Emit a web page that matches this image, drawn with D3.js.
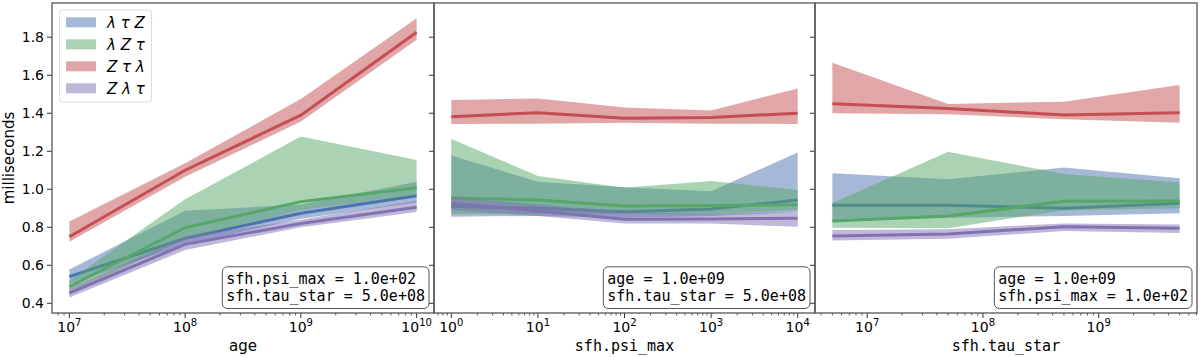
<!DOCTYPE html>
<html>
<head>
<meta charset="utf-8">
<script src="https://cdn.jsdelivr.net/npm/d3@7"></script>
<style>
  body { margin: 0; background: #fff; }
  text { font-family: "DejaVu Sans", sans-serif; fill: #000; }
  .mono { font-family: "DejaVu Sans Mono", monospace; }
</style>
</head>
<body>
<script>
const seriesNames = ['λ τ Z', 'λ Z τ', 'Z τ λ', 'Z λ τ']
const colors = ['#4c72b0', '#55a868', '#c44e52', '#8172b2']

const yTicks = [0.4, 0.6, 0.8, 1.0, 1.2, 1.4, 1.6, 1.8]

// panel 1: age
const ageX = [1e7, 1e8, 1e9, 1e10]
const ageMid = [
  [0.54, 0.742, 0.874, 0.966],
  [0.487, 0.798, 0.935, 1.008],
  [0.75, 1.10, 1.39, 1.826],
  [0.453, 0.71, 0.82, 0.905]
]
const ageLo = [
  [0.50, 0.71, 0.845, 0.93],
  [0.45, 0.74, 0.89, 0.97],
  [0.724, 1.066, 1.356, 1.786],
  [0.43, 0.68, 0.80, 0.88]
]
const ageHi = [
  [0.578, 0.887, 0.92, 1.04],
  [0.52, 0.947, 1.277, 1.154],
  [0.83, 1.137, 1.475, 1.90],
  [0.48, 0.75, 0.84, 0.94]
]

// panel 2: sfh.psi_max
const psiX = [1, 10, 100, 1000, 1e4]
const psiMid = [
  [0.909, 0.90, 0.882, 0.896, 0.944],
  [0.954, 0.944, 0.912, 0.914, 0.919],
  [1.382, 1.403, 1.374, 1.378, 1.40],
  [0.926, 0.886, 0.842, 0.844, 0.847]
]
const psiLo = [
  [0.856, 0.86, 0.85, 0.86, 0.88],
  [0.87, 0.87, 0.87, 0.87, 0.89],
  [1.344, 1.345, 1.35, 1.345, 1.344],
  [0.89, 0.86, 0.82, 0.82, 0.803]
]
const psiHi = [
  [1.177, 1.04, 1.01, 0.99, 1.193],
  [1.265, 1.07, 1.008, 1.044, 0.996],
  [1.47, 1.477, 1.43, 1.414, 1.53],
  [0.96, 0.92, 0.88, 0.87, 0.88]
]

// panel 3: sfh.tau_star
const tauX = [5e6, 5e7, 5e8, 5e9]
const tauMid = [
  [0.916, 0.916, 0.90, 0.926],
  [0.833, 0.859, 0.937, 0.938],
  [1.45, 1.425, 1.391, 1.403],
  [0.754, 0.765, 0.803, 0.795]
]
const tauLo = [
  [0.83, 0.85, 0.86, 0.874],
  [0.798, 0.795, 0.89, 0.90],
  [1.40, 1.395, 1.368, 1.35],
  [0.73, 0.74, 0.78, 0.77]
]
const tauHi = [
  [1.084, 1.053, 1.114, 1.058],
  [0.926, 1.198, 1.08, 1.035],
  [1.666, 1.449, 1.461, 1.549],
  [0.786, 0.79, 0.82, 0.815]
]

const panels = [
  { x: ageX, mid: ageMid, lo: ageLo, hi: ageHi, label: 'age', mono: false,
    note: ['sfh.psi_max = 1.0e+02', 'sfh.tau_star = 5.0e+08'], left: 52, right: 434 },
  { x: psiX, mid: psiMid, lo: psiLo, hi: psiHi, label: 'sfh.psi_max', mono: true,
    note: ['age = 1.0e+09', 'sfh.tau_star = 5.0e+08'], left: 434, right: 815 },
  { x: tauX, mid: tauMid, lo: tauLo, hi: tauHi, label: 'sfh.tau_star', mono: true,
    note: ['age = 1.0e+09', 'sfh.psi_max = 1.0e+02'], left: 815, right: 1197 }
]

const W = 1200, H = 357
const plotTop = 3, plotBottom = 313

const svg = d3.select('body').append('svg')
  .attr('width', W)
  .attr('height', H)

const y = d3.scaleLinear().domain([0.349, 1.98]).range([plotBottom, plotTop])

panels.forEach((p, pi) => {
  // log x with 5% margins like matplotlib
  const lmin = Math.log10(d3.min(p.x)), lmax = Math.log10(d3.max(p.x))
  const pad = (lmax - lmin) * 0.05
  const x = d3.scaleLog()
    .domain([Math.pow(10, lmin - pad), Math.pow(10, lmax + pad)])
    .range([p.left, p.right])

  const g = svg.append('g')
  const clipId = 'clip' + pi
  svg.append('clipPath').attr('id', clipId)
    .append('rect')
    .attr('x', p.left).attr('y', plotTop)
    .attr('width', p.right - p.left).attr('height', plotBottom - plotTop)

  const plot = g.append('g').attr('clip-path', `url(#${clipId})`)

  const area = d3.area()
    .x(d => x(d.x))
    .y0(d => y(d.lo))
    .y1(d => y(d.hi))
  const line = d3.line()
    .x(d => x(d.x))
    .y(d => y(d.v))

  p.mid.forEach((vals, si) => {
    const band = p.x.map((xv, i) => ({ x: xv, lo: p.lo[si][i], hi: p.hi[si][i] }))
    plot.append('path')
      .attr('d', area(band))
      .attr('fill', colors[si])
      .attr('fill-opacity', 0.5)
    plot.append('path')
      .attr('d', line(p.x.map((xv, i) => ({ x: xv, v: vals[i] }))))
      .attr('stroke', colors[si])
      .attr('stroke-width', 3)
      .attr('fill', 'none')
  })

  // y ticks (labels only on first panel)
  const yAxis = g.append('g')
  yTicks.forEach(t => {
    yAxis.append('line')
      .attr('x1', p.left - 5).attr('x2', p.left)
      .attr('y1', y(t)).attr('y2', y(t))
      .attr('stroke', '#333').attr('stroke-width', 1)
    if (pi === 0) {
      yAxis.append('text')
        .attr('x', p.left - 8)
        .attr('y', y(t))
        .attr('dy', '0.36em')
        .attr('text-anchor', 'end')
        .attr('font-size', 14)
        .text(t.toFixed(1))
    }
  })

  // x ticks: decades + minor
  const [d0, d1] = x.domain()
  const e0 = Math.floor(Math.log10(d0)), e1 = Math.ceil(Math.log10(d1))
  const xAxis = g.append('g')
  for (let e = e0; e <= e1; e++) {
    for (let m = 1; m <= 9; m++) {
      const v = m * Math.pow(10, e)
      if (v < d0 || v > d1) continue
      const px = x(v)
      xAxis.append('line')
        .attr('x1', px).attr('x2', px)
        .attr('y1', plotBottom).attr('y2', plotBottom + (m === 1 ? 5 : 2.5))
        .attr('stroke', '#333').attr('stroke-width', m === 1 ? 1 : 0.8)
      if (m === 1) {
        const t = xAxis.append('text')
          .attr('x', px)
          .attr('y', 332)
          .attr('text-anchor', 'middle')
          .attr('font-size', 14)
        t.append('tspan').text('10')
        t.append('tspan')
          .attr('font-size', 10)
          .attr('dy', -6)
          .text(String(e))
      }
    }
  }

  // x label
  g.append('text')
    .attr('class', p.mono ? 'mono' : null)
    .attr('x', (p.left + p.right) / 2)
    .attr('y', 351)
    .attr('text-anchor', 'middle')
    .attr('font-size', 15)
    .text(p.label)

  // annotation box in lower right
  const note = g.append('g')
  const nt = note.append('text')
    .attr('class', 'mono')
    .attr('font-size', 15)
  p.note.forEach((s, i) => {
    nt.append('tspan')
      .attr('x', 0)
      .attr('y', i * 17.7)
      .text(s)
  })
  const bb = nt.node().getBBox()
  const padX = 4, padY = 3
  const bw = bb.width + padX * 2, bh = bb.height + padY * 2
  const bx = p.right - 5 - bw, by = plotBottom - 4.5 - bh
  note.insert('rect', 'text')
    .attr('x', bx).attr('y', by)
    .attr('width', bw).attr('height', bh)
    .attr('rx', 5)
    .attr('fill', '#fff')
    .attr('stroke', '#555')
    .attr('stroke-width', 1)
  nt.attr('transform', `translate(${bx + padX - bb.x},${by + padY - bb.y})`)

  // frame
  g.append('rect')
    .attr('x', p.left).attr('y', plotTop)
    .attr('width', p.right - p.left).attr('height', plotBottom - plotTop)
    .attr('fill', 'none')
    .attr('stroke', '#555')
    .attr('stroke-width', 1.3)
})

// y label
svg.append('text')
  .attr('transform', `translate(14,${(plotTop + plotBottom) / 2}) rotate(-90)`)
  .attr('text-anchor', 'middle')
  .attr('font-size', 15)
  .text('milliseconds')

// legend
const legend = svg.append('g')
legend.append('rect')
  .attr('x', 59.5).attr('y', 10)
  .attr('width', 92).attr('height', 92)
  .attr('rx', 3)
  .attr('fill', '#fff')
  .attr('fill-opacity', 0.8)
  .attr('stroke', '#ddd')
seriesNames.forEach((name, i) => {
  const ry = 22.3 + i * 22
  legend.append('rect')
    .attr('x', 66).attr('y', ry - 5)
    .attr('width', 30).attr('height', 10)
    .attr('fill', colors[i])
    .attr('fill-opacity', 0.5)
  legend.append('text')
    .attr('x', 107).attr('y', ry)
    .attr('dy', '0.36em')
    .attr('font-size', 15)
    .attr('font-style', 'italic')
    .text(name)
})
</script>
</body>
</html>
